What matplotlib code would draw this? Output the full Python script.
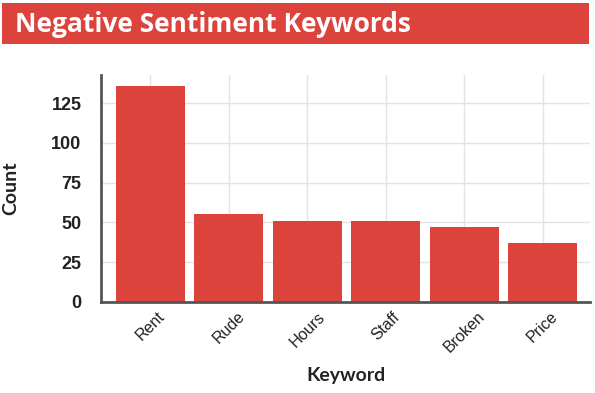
import matplotlib
matplotlib.use("Agg")
import matplotlib.pyplot as plt
from matplotlib.patches import Rectangle

keywords = ["Rent", "Rude", "Hours", "Staff", "Broken", "Price"]
counts = [136, 55, 51, 51, 47, 37]
yticks = [0, 25, 50, 75, 100, 125]

RED = "#DB433C"
W, H = 595, 393
fig = plt.figure(figsize=(W / 100, H / 100), dpi=100)

# title bar
fig.patches.append(Rectangle((2 / W, 1 - 44 / H), 587 / W, 41 / H,
                             transform=fig.transFigure, facecolor=RED,
                             edgecolor="none", zorder=0))
fig.text(15 / W, 1 - 24 / H, "Negative Sentiment Keywords", color="white",
         fontsize=19, fontweight="bold", family="Open Sans", va="center",
         ha="left")

ax = fig.add_axes([101 / W, 1 - 302 / H, (590 - 101) / W, (302 - 75) / H])
x = list(range(len(keywords)))
ax.bar(x, counts, width=0.88, color=RED, zorder=2)
ax.set_xlim(-0.63, 5.6)
ax.set_ylim(0, 142.6)
ax.set_yticks(yticks)
ax.set_xticks(x)
ax.set_xticklabels(keywords, rotation=45, ha="center", fontsize=11.5,
                   family="Liberation Sans", color="#222222")
ax.set_yticklabels([str(v) for v in yticks], fontsize=13, fontweight="bold",
                   family="Liberation Sans", color="#222222")
ax.tick_params(axis="y", length=0, pad=14)
ax.tick_params(axis="x", length=0, pad=5)
ax.grid(True, color="#e3e3e3", linewidth=1, zorder=0)
ax.set_axisbelow(True)
for s in ["top", "right"]:
    ax.spines[s].set_visible(False)
for s in ["left", "bottom"]:
    ax.spines[s].set_color("#555555")
    ax.spines[s].set_linewidth(2)
ax.set_ylabel("Count", fontsize=14, family="Lato", fontweight="bold",
              color="#222222")
ax.set_xlabel("Keyword", fontsize=14, family="Lato", fontweight="bold",
              color="#222222", labelpad=8)
ax.yaxis.set_label_coords(-(101 - 19) / (590 - 101), 0.5)

fig.savefig("out.png", dpi=100)
